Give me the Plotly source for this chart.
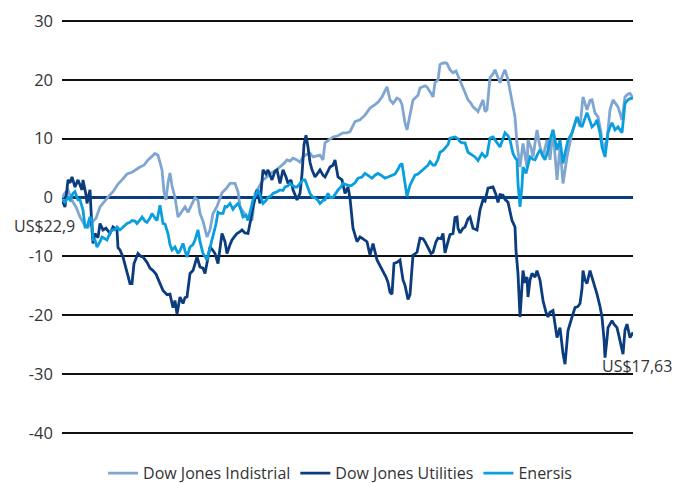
import plotly.graph_objects as go

industrial = [
    (0, 0.0), (3, 0.8), (6, 1.3), (10, -0.5), (14, -1.6), (18, -3.3), (22, -4.5), (26, -5.0),
    (30, -4.2), (34, -3.5), (38, -1.6), (43, -0.5), (47, 0.3), (51, 1.0), (56, 2.3), (60, 3.0),
    (65, 4.0), (70, 4.3), (74, 4.8), (78, 5.2), (82, 5.5), (86, 6.4), (90, 7.0), (93, 7.5),
    (96, 7.2), (98, 6.0), (100, 4.7), (102, 1.0), (104, -0.4), (106, 2.5), (108, 4.2), (110, 2.0),
    (113, 0.0), (116, -3.3), (119, -2.5), (123, -1.6), (126, -2.5), (130, -1.0), (133, 0.0),
    (136, -0.5), (138, -2.7), (141, -4.0), (143, -5.5), (145, -6.7), (148, -5.5), (151, -2.7),
    (155, -1.5), (160, 0.8), (164, 1.5), (168, 2.4), (173, 2.4), (176, 1.0), (178, -1.6),
    (182, -2.5), (185, -3.3), (188, -3.5), (190, -3.9), (193, 0.7), (197, 1.8), (201, 3.0),
    (205, 3.5), (208, 4.1), (213, 4.5), (218, 5.2), (222, 5.8), (225, 6.4), (228, 6.2),
    (231, 6.7), (235, 6.4), (238, 6.0), (241, 6.9), (244, 7.3), (248, 7.5), (251, 6.9),
    (255, 7.0), (258, 7.2), (261, 6.4), (263, 9.3), (267, 9.8), (271, 10.3), (276, 10.5),
    (281, 11.0), (285, 11.0), (288, 11.2), (293, 12.9), (298, 13.2), (303, 14.0), (308, 15.2),
    (313, 15.8), (316, 16.2), (320, 17.1), (323, 18.0), (325, 18.8), (328, 16.6), (331, 16.0),
    (335, 16.9), (338, 16.6), (340, 15.8), (343, 12.7), (345, 11.5), (348, 14.0), (351, 16.6),
    (356, 17.4), (358, 18.6), (363, 19.0), (365, 18.8), (368, 18.0), (371, 17.1), (373, 19.5),
    (376, 20.0), (378, 22.6), (380, 22.8), (383, 22.9), (385, 22.8), (388, 21.7), (391, 21.2),
    (394, 21.5), (398, 19.8), (401, 18.8), (404, 17.5), (406, 16.6), (409, 16.0), (411, 15.4),
    (414, 15.0), (416, 14.6), (419, 15.8), (421, 16.6), (423, 14.6), (425, 14.9), (428, 20.4),
    (431, 21.0), (433, 21.7), (436, 20.5), (438, 19.5), (441, 21.0), (443, 21.7), (446, 20.0),
    (448, 18.0), (450, 16.6), (453, 13.7), (455, 9.2), (458, 5.2), (461, 9.2), (463, 7.0),
    (465, 5.2), (466, 9.8), (469, 8.5), (471, 6.9), (475, 11.5), (478, 8.6), (481, 6.9),
    (485, 9.8), (488, 6.4), (491, 11.5), (495, 3.0), (498, 8.6), (501, 2.4), (505, 6.9),
    (510, 11.0), (515, 13.7), (518, 12.0), (521, 17.1), (525, 14.9), (528, 16.5), (530, 16.6),
    (533, 14.4), (536, 13.7), (539, 11.0), (541, 8.1), (543, 9.0), (545, 9.8), (548, 14.9),
    (551, 16.6), (556, 15.4), (560, 13.2), (563, 17.1), (566, 17.6), (568, 17.7), (571, 16.9),
]

utilities = [
    (0, -0.4), (3, -1.6), (6, 3.0), (8, 2.5), (10, 3.5), (13, 1.8), (16, 3.0), (18, 2.0),
    (20, 1.3), (21, 3.0), (24, 0.5), (25, -1.0), (28, 1.3), (30, -5.5), (31, -7.8), (33, -6.1),
    (36, -6.8), (38, -4.4), (41, -5.5), (44, -5.2), (48, -6.1), (51, -5.0), (55, -5.5),
    (56, -8.5), (58, -8.9), (61, -10.1), (63, -11.5), (65, -12.9), (68, -14.6), (70, -14.6),
    (72, -11.2), (76, -9.5), (79, -10.0), (81, -10.1), (85, -11.0), (88, -12.0), (91, -12.4),
    (94, -13.0), (98, -14.5), (101, -15.8), (105, -16.5), (108, -16.4), (111, -18.7),
    (113, -17.5), (115, -19.8), (118, -16.9), (121, -18.0), (123, -17.0), (125, -16.9),
    (128, -12.9), (131, -12.4), (135, -10.1), (138, -11.8), (141, -12.0), (143, -12.9),
    (146, -10.5), (148, -8.4), (151, -9.0), (153, -9.5), (156, -11.2), (160, -6.1), (163, -7.5),
    (165, -9.5), (168, -8.0), (170, -7.2), (173, -6.5), (175, -6.1), (178, -5.8), (180, -5.5),
    (183, -6.0), (186, -6.1), (189, -3.5), (191, -1.6), (195, 1.3), (198, -1.0), (201, 4.7),
    (204, 4.0), (206, 4.7), (210, 3.0), (213, 4.5), (215, 4.7), (218, 2.4), (221, 4.7),
    (224, 3.5), (226, 2.4), (229, 3.0), (231, 1.3), (233, 0.5), (235, -0.4), (238, 0.7),
    (240, 4.0), (242, 9.0), (244, 10.6), (246, 8.6), (248, 6.0), (250, 4.7), (253, 3.5),
    (256, 4.2), (258, 4.7), (261, 3.8), (263, 3.5), (266, 4.5), (268, 5.2), (271, 5.5),
    (273, 6.4), (276, 3.5), (280, 3.0), (283, 0.7), (286, 1.8), (288, -0.1), (291, -5.2),
    (295, -7.5), (298, -6.7), (300, -6.9), (303, -7.2), (305, -7.5), (308, -9.8), (311, -7.8),
    (315, -10.6), (318, -11.5), (321, -12.5), (324, -13.5), (326, -14.4), (328, -16.1),
    (330, -16.4), (332, -11.2), (335, -11.0), (338, -10.6), (341, -14.0), (343, -14.9),
    (346, -17.3), (348, -16.5), (351, -9.8), (355, -9.3), (358, -6.9), (361, -7.0), (363, -7.5),
    (366, -8.6), (369, -9.5), (371, -9.3), (374, -7.5), (376, -6.9), (379, -7.0), (381, -6.1),
    (383, -9.4), (386, -7.5), (388, -6.3), (391, -6.1), (393, -3.4), (395, -3.3), (396, -5.2),
    (398, -6.0), (401, -5.2), (403, -5.0), (406, -3.6), (408, -3.3), (411, -5.2), (415, -5.5),
    (418, -2.1), (421, -0.4), (423, -0.6), (426, 1.6), (429, 1.8), (431, 1.8), (434, 0.5),
    (436, -0.8), (438, 0.5), (441, 0.4), (443, -0.3), (446, -0.8), (450, -3.9), (453, -5.0),
    (454, -9.0), (456, -12.9), (458, -20.3), (460, -15.0), (461, -12.4), (463, -14.5),
    (465, -13.5), (466, -16.9), (468, -14.0), (470, -12.9), (473, -13.5), (475, -12.4),
    (478, -14.0), (481, -17.5), (484, -19.5), (486, -20.3), (488, -19.5), (491, -19.2),
    (493, -22.0), (495, -23.8), (498, -22.1), (501, -26.5), (503, -28.3), (505, -25.0),
    (506, -22.6), (510, -20.3), (513, -18.7), (516, -18.5), (518, -18.0), (520, -15.5),
    (521, -12.4), (523, -14.0), (525, -14.6), (528, -12.4), (530, -13.5), (531, -14.0),
    (533, -15.0), (535, -16.4), (538, -18.5), (540, -20.3), (542, -24.0), (543, -27.2),
    (545, -24.0), (546, -22.1), (548, -21.5), (550, -20.9), (552, -21.5), (555, -22.1),
    (558, -24.3), (561, -26.6), (563, -22.5), (565, -21.5), (568, -23.8), (571, -22.9),
]

enersis = [
    (0, -0.4), (3, -0.8), (6, 0.0), (8, -0.4), (11, 0.7), (13, 1.0), (16, -0.4), (18, -0.4),
    (21, -2.1), (23, -5.0), (25, -5.0), (28, -3.3), (30, -3.9), (31, -7.2), (33, -7.2),
    (35, -8.4), (38, -7.5), (40, -6.7), (43, -7.0), (45, -7.2), (48, -6.0), (50, -5.5),
    (53, -5.5), (55, -5.0), (58, -5.5), (60, -5.2), (63, -4.8), (65, -4.4), (68, -4.2),
    (70, -3.9), (73, -4.0), (75, -4.4), (78, -3.8), (80, -3.3), (83, -4.0), (85, -4.2),
    (88, -3.5), (90, -2.7), (93, -3.5), (95, -3.9), (98, -1.3), (101, -4.4), (103, -4.5),
    (106, -6.1), (108, -8.0), (110, -8.9), (113, -8.4), (116, -9.5), (118, -9.0), (121, -7.8),
    (123, -9.0), (125, -10.1), (128, -8.4), (131, -8.0), (133, -7.2), (136, -5.5), (138, -7.5),
    (141, -9.5), (143, -10.0), (145, -10.6), (148, -8.5), (151, -6.7), (154, -4.5), (156, -2.5),
    (158, -2.7), (161, -2.7), (163, -1.5), (165, -1.6), (168, -1.0), (171, -2.0), (173, -1.5),
    (176, -1.0), (178, -1.6), (181, -3.3), (184, -3.0), (186, -3.9), (189, -2.0), (191, -0.4),
    (194, 0.5), (196, 1.3), (199, 0.0), (201, -1.0), (204, -0.5), (206, 0.0), (209, 0.3),
    (211, 0.7), (215, 1.0), (218, 1.3), (221, 1.2), (223, 1.8), (226, 2.0), (228, 2.4),
    (231, 2.0), (233, 1.8), (235, 1.8), (238, 2.4), (241, 3.0), (243, 3.0), (246, 1.8),
    (248, 0.7), (251, 0.0), (253, 0.0), (256, -0.5), (258, -1.0), (261, -0.5), (263, -0.4),
    (266, 0.7), (268, 0.0), (271, 0.0), (274, 0.8), (276, 1.3), (279, 1.8), (281, 2.4),
    (284, 2.2), (288, 2.0), (290, 2.1), (293, 2.5), (296, 3.3), (300, 3.5), (303, 4.1),
    (306, 3.8), (310, 3.3), (313, 3.8), (316, 4.1), (319, 3.8), (323, 3.3), (326, 3.5),
    (330, 3.8), (333, 4.0), (336, 4.8), (338, 5.5), (340, 5.8), (342, 3.5), (344, 1.0),
    (345, 0.2), (348, 2.1), (351, 3.0), (353, 3.8), (356, 4.0), (358, 4.3), (361, 4.7),
    (363, 5.0), (366, 5.5), (368, 6.1), (371, 5.5), (373, 5.5), (376, 6.5), (378, 7.7),
    (381, 8.0), (383, 8.4), (386, 9.0), (388, 10.1), (391, 10.3), (393, 10.3), (396, 10.0),
    (398, 9.5), (400, 9.3), (403, 9.3), (406, 7.7), (408, 7.5), (411, 7.2), (413, 6.9),
    (416, 6.3), (418, 7.0), (420, 7.5), (423, 6.9), (425, 7.2), (428, 10.1), (431, 10.3),
    (433, 9.8), (436, 9.0), (438, 8.6), (441, 10.0), (443, 11.0), (446, 10.5), (448, 9.8),
    (451, 7.5), (453, 6.8), (455, 6.4), (456, 2.4), (458, -1.6), (460, 2.0), (461, 5.2),
    (464, 4.1), (466, 5.5), (468, 6.9), (471, 6.5), (473, 6.4), (476, 7.5), (478, 8.1),
    (481, 7.0), (483, 6.4), (486, 8.0), (488, 9.8), (491, 11.5), (493, 9.5), (495, 8.1),
    (498, 9.8), (501, 5.8), (503, 7.5), (506, 9.8), (510, 11.0), (513, 12.5), (515, 13.7),
    (518, 12.5), (520, 12.0), (523, 13.5), (525, 14.4), (528, 13.0), (530, 12.0), (533, 12.5),
    (535, 13.2), (538, 11.0), (540, 8.6), (543, 6.9), (546, 11.0), (548, 12.0), (550, 12.7),
    (553, 11.5), (556, 12.0), (558, 11.5), (560, 11.0), (563, 16.0), (566, 16.6), (568, 16.8),
    (571, 16.9),
]

series = [
    ("Dow Jones Indistrial", industrial, "#7fa6d1"),
    ("Dow Jones Utilities", utilities, "#0b3c7d"),
    ("Enersis", enersis, "#0a9ede"),
]

y_ticks = [30, 20, 10, 0, -10, -20, -30, -40]
y_tick_text = ["30", "20", "10", "0", "-10", "-20", "-30", "-40"]

start_label = "US$22,9"
start_label_value = -4.9
end_label = "US$17,63"
end_label_value = -28.7

FONT = "Open Sans"
TEXT = "#333333"

fig = go.Figure()
for name, obs, color in series:
    fig.add_trace(go.Scatter(
        x=[d for d, _ in obs], y=[v for _, v in obs], name=name, mode="lines",
        line=dict(color=color, width=2.8), hoverinfo="skip",
    ))

fig.update_layout(
    width=691, height=483,
    margin=dict(l=62, r=58, t=19, b=48, autoexpand=False),
    paper_bgcolor="white", plot_bgcolor="white",
    font=dict(family=FONT, color=TEXT, size=16),
    showlegend=True,
    legend=dict(orientation="h", x=0.487, xanchor="center", y=-0.092, yanchor="middle",
                font=dict(size=16, color=TEXT), itemwidth=30, traceorder="normal"),
    xaxis=dict(range=[0, 571], visible=False, showgrid=False, zeroline=False),
    yaxis=dict(range=[-40.34, 30.34], tickvals=y_ticks, ticktext=y_tick_text,
               showgrid=True, gridcolor="#111111", gridwidth=1.5,
               zeroline=True, zerolinecolor="#0b3c7d", zerolinewidth=2.8,
               showline=False, ticks="", ticklabelstandoff=8,
               tickfont=dict(size=16.5, color=TEXT)),
    annotations=[
        dict(text=start_label, xref="paper", x=-0.03, xanchor="center",
             yref="y", y=start_label_value, yanchor="middle", showarrow=False,
             font=dict(size=16, color=TEXT)),
        dict(text=end_label, xref="paper", x=1.007, xanchor="center",
             yref="y", y=end_label_value, yanchor="middle", showarrow=False,
             font=dict(size=16, color=TEXT)),
    ],
)

fig.write_html("out.html", config={"displayModeBar": False},
               post_script="document.body.style.margin='0';")
